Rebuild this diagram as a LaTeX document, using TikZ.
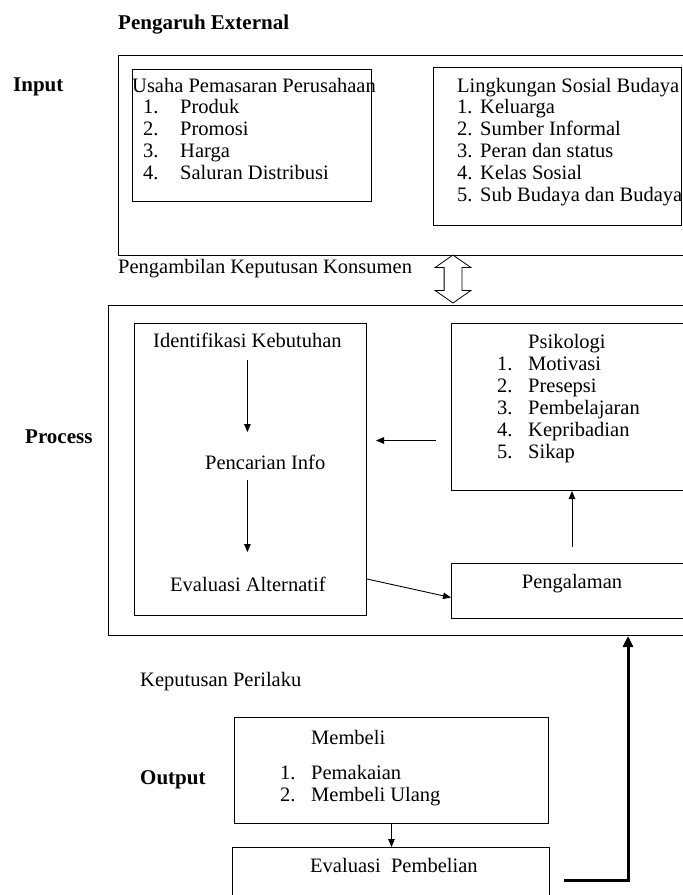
\documentclass[tikz,border=0pt]{standalone}
\usepackage{fontspec}
\setmainfont{Liberation Serif}
\usetikzlibrary{arrows.meta,positioning,shapes.arrows}
\tikzset{
        box/.style={draw, line width=1pt, inner sep=0pt, anchor=north west},
        txt/.style={inner sep=0pt, anchor=west, yshift=-4pt, text height=0.7em, text depth=0.25em, font=\fontsize{20.5}{22}\selectfont},
        lbl/.style={txt, font=\fontsize{21}{22}\selectfont\bfseries},
        arr/.style={-{Triangle[length=8pt,width=6.5pt]}, line width=0.9pt},
        fback/.style={-{Triangle[length=11pt,width=10pt]}, line width=3pt},
    }

\begin{document}
\begin{tikzpicture}[x=1pt, y=-1pt]
                \useasboundingbox (0,0) rectangle (683,895);
                \clip (0,0) rectangle (683,895);
                \node[lbl] (pengext) at (118,23) {Pengaruh External};
                \node[lbl] (input) at (13,85) {Input};
                \node[lbl] (process) at (25,437) {Process};
                \node[lbl] (output) at (140,778) {Output};
                \node[box, minimum width=600, minimum height=200] (inbox) at (118,55) {};
                \node[box, minimum width=239, minimum height=132] (usahabox) at (132,69) {};
                \node[box, minimum width=248, minimum height=158] (lingbox) at (433,67) {};
                \node[box, minimum width=610, minimum height=330] (procbox) at (108,305) {};
                \node[box, minimum width=232, minimum height=292] (identbox) at (134,323) {};
                \node[box, minimum width=260, minimum height=167] (psibox) at (451,323) {};
                \node[box, minimum width=260, minimum height=55] (pengbox) at (451,563) {};
                \node[box, minimum width=314, minimum height=106] (membox) at (234,717) {};
                \node[box, minimum width=317, minimum height=80] (evbbox) at (232,847) {};
                \node[txt] (usaha) at (132,86) {Usaha Pemasaran Perusahaan};
                \foreach \t [count=\k] in {Produk,Promosi,Harga,Saluran Distribusi}
                {
                    \node[txt] (un\k) at (143,85+22*\k) {\k.};
                    \node[txt] (ut\k) at (180,85+22*\k) {\t};
                }
                \node[txt] (ling) at (457,86) {Lingkungan Sosial Budaya};
                \foreach \t [count=\k] in {Keluarga,Sumber Informal,Peran dan status,Kelas Sosial,Sub Budaya dan Budaya}
                {
                    \node[txt] (ln\k) at (457,85+22*\k) {\k.};
                    \node[txt] (lt\k) at (480,85+22*\k) {\t};
                }
                \node[txt] (pkk) at (118,267) {Pengambilan Keputusan Konsumen};
                \node[txt] (ident) at (153,341) {Identifikasi Kebutuhan};
                \node[txt] (cari) at (205,463) {Pencarian Info};
                \node[txt] (evalt) at (170,585) {Evaluasi Alternatif};
                \node[txt] (psi) at (528,342) {Psikologi};
                \foreach \t [count=\k] in {Motivasi,Presepsi,Pembelajaran,Kepribadian,Sikap}
                {
                    \node[txt] (pn\k) at (497,342+22*\k) {\k.};
                    \node[txt] (pt\k) at (528,342+22*\k) {\t};
                }
                \node[txt, anchor=center] (peng) at (572,582) {Pengalaman};
                \node[txt] (kp) at (140,680) {Keputusan Perilaku};
                \node[txt] (beli) at (311,738) {Membeli};
                \foreach \t [count=\k] in {Pemakaian,Membeli Ulang}
                {
                    \node[txt] (mn\k) at (280,751+22*\k) {\k.};
                    \node[txt] (mt\k) at (311,751+22*\k) {\t};
                }
                \node[txt] (evbeli) at (310,866) {Evaluasi\ \ Pembelian};
                \node[draw, double arrow, rotate=90, line width=0.8pt, minimum height=48pt, inner xsep=0pt, inner ysep=8.5pt,
                    double arrow head extend=9pt, double arrow tip angle=110] (dbl) at (453,279) {};
                \draw[arr, shorten <=10pt, shorten >=30pt] (ident.south) -- (ident.south |- cari.north);
                \draw[arr, shorten <=8pt, shorten >=32pt] (ident.south |- cari.south) -- (ident.south |- evalt.north);
                \draw[arr, line width=1.4pt, shorten <=15pt, shorten >=9pt] ([yshift=-33.5pt]psibox.west) -- ([yshift=-33.5pt]psibox.west -| identbox.east);
                \draw[arr, shorten <=16pt] (peng |- pengbox.north) -- (peng |- psibox.south);
                \draw[arr] ([yshift=37pt]identbox.south east) -- ([yshift=-6.5pt]pengbox.west);
                \draw[arr] (membox.south) -- (membox.south |- evbbox.north);
                \coordinate (fb) at (628,880);
                \draw[fback, shorten <=14pt] (evbbox.east |- fb) -| (procbox.south -| fb);
            \end{tikzpicture}
\end{document}
